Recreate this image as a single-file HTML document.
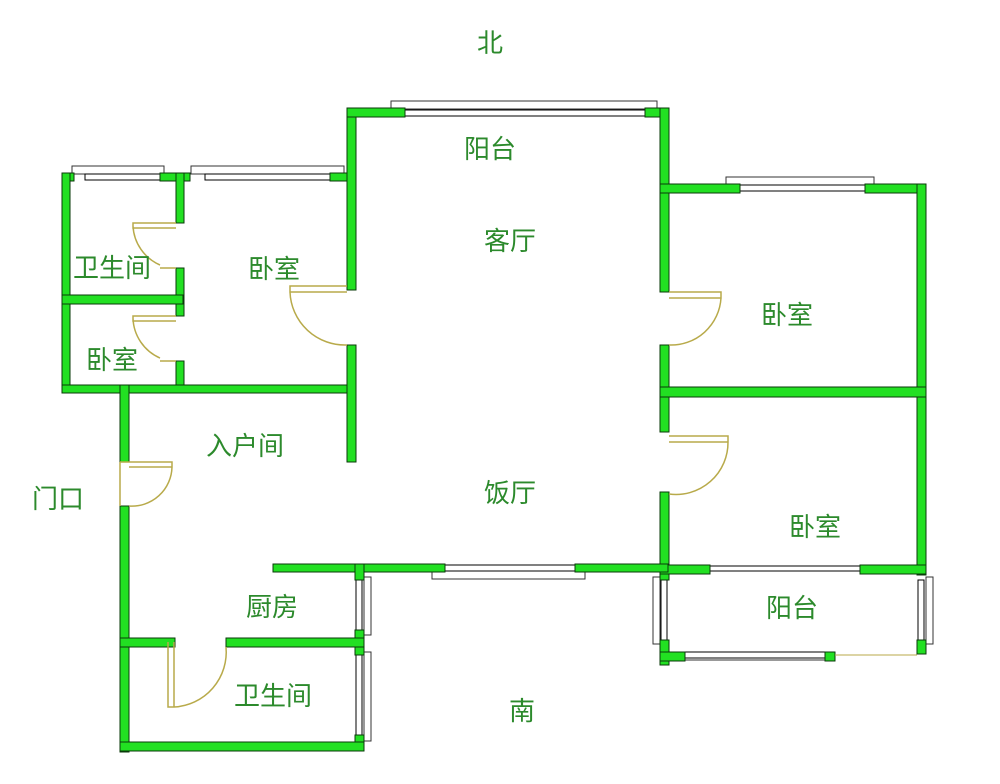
<!DOCTYPE html>
<html><head><meta charset="utf-8"><style>
html,body{margin:0;padding:0;background:#fff;}
svg{display:block}
text{font-family:"Liberation Sans","Noto Sans CJK SC",sans-serif;font-size:26px;fill:#2c8a2c;text-anchor:middle;dominant-baseline:middle}
.w{fill:#22e022;stroke:#0a3a0a;stroke-width:1}
.d{fill:none;stroke:#b8aa4a;stroke-width:1.5}
.f{fill:#fff;stroke:#333;stroke-width:1}
</style></head><body>
<svg width="1000" height="784" viewBox="0 0 1000 784">
<!-- windows frames -->
<rect class="f" x="391" y="101" width="266" height="8"/>
<rect class="f" x="72" y="166" width="92" height="8"/>
<rect class="f" x="191" y="166" width="153" height="8"/>
<rect class="f" x="726" y="177" width="148" height="8"/>
<rect class="f" x="432" y="571" width="153" height="8"/>
<rect class="f" x="673" y="652" width="160" height="8"/>
<rect class="f" x="653" y="577" width="7" height="67"/>
<rect class="f" x="926" y="577" width="7" height="67"/>
<rect class="f" x="364" y="577" width="7" height="58"/>
<rect class="f" x="364" y="652" width="7" height="89"/>
<!-- glass lines -->
<rect x="405" y="110" width="240" height="6" fill="#fff" stroke="#000"/>
<rect x="85" y="174" width="75" height="6" fill="#fff" stroke="#000"/>
<rect x="205" y="174" width="125" height="6" fill="#fff" stroke="#000"/>
<rect x="740" y="185" width="125" height="6" fill="#fff" stroke="#000"/>
<rect x="445" y="565" width="130" height="6" fill="#fff" stroke="#000"/>
<rect x="710" y="566" width="150" height="5" fill="#fff" stroke="#000"/>
<rect x="685" y="652" width="140" height="6" fill="#fff" stroke="#000"/>
<rect x="661" y="580" width="6" height="60" fill="#fff" stroke="#000"/>
<rect x="918" y="580" width="6" height="60" fill="#fff" stroke="#000"/>
<rect x="356" y="580" width="6" height="50" fill="#fff" stroke="#000"/>
<rect x="356" y="655" width="6" height="80" fill="#fff" stroke="#000"/>
<!-- walls -->
<rect class="w" x="62" y="173" width="12" height="8"/>
<rect class="w" x="160" y="173" width="30" height="8"/>
<rect class="w" x="330" y="173" width="26" height="8"/>
<rect class="w" x="62" y="173" width="8" height="220"/>
<rect class="w" x="176" y="173" width="8" height="50"/>
<rect class="w" x="176" y="268" width="8" height="48"/>
<rect class="w" x="176" y="361" width="8" height="31"/>
<rect class="w" x="62" y="295" width="121" height="9"/>
<rect class="w" x="62" y="385" width="293" height="8"/>
<rect class="w" x="347" y="108" width="9" height="182"/>
<rect class="w" x="347" y="345" width="9" height="117"/>
<rect class="w" x="347" y="108" width="58" height="9"/>
<rect class="w" x="645" y="108" width="23" height="9"/>
<rect class="w" x="660" y="108" width="9" height="184"/>
<rect class="w" x="660" y="345" width="9" height="87"/>
<rect class="w" x="660" y="492" width="9" height="80"/>
<rect class="w" x="660" y="184" width="80" height="9"/>
<rect class="w" x="865" y="184" width="61" height="9"/>
<rect class="w" x="917" y="184" width="9" height="391"/>
<rect class="w" x="660" y="387" width="266" height="10"/>
<rect class="w" x="660" y="565" width="50" height="9"/>
<rect class="w" x="860" y="565" width="66" height="9"/>
<rect class="w" x="660" y="574" width="9" height="6"/>
<rect class="w" x="660" y="640" width="9" height="25"/>
<rect class="w" x="660" y="652" width="25" height="9"/>
<rect class="w" x="825" y="652" width="10" height="9"/>
<rect class="w" x="917" y="640" width="9" height="14"/>
<line x1="835" y1="655" x2="917" y2="655" stroke="#b8aa4a"/>
<rect class="w" x="273" y="564" width="172" height="8"/>
<rect class="w" x="575" y="564" width="93" height="8"/>
<rect class="w" x="120" y="385" width="9" height="77"/>
<rect class="w" x="120" y="506" width="9" height="246"/>
<rect class="w" x="355" y="564" width="9" height="16"/>
<rect class="w" x="355" y="630" width="9" height="25"/>
<rect class="w" x="355" y="735" width="9" height="16"/>
<rect class="w" x="120" y="638" width="55" height="9"/>
<rect class="w" x="226" y="638" width="138" height="9"/>
<rect class="w" x="120" y="742" width="244" height="9"/>
<!-- doors -->
<path class="d" d="M176 223 H133 V228 H176 M133 226 A45 45 0 0 0 160 265 M160 268 H176"/>
<path class="d" d="M176 316 H133 V321 H176 M133 318 A45 45 0 0 0 160 358 M160 361 H176"/>
<path class="d" d="M347 286 H290 V292 H347 M290 292 A55 55 0 0 0 347 345"/>
<path class="d" d="M669 292 H721 V298 H669 M721 298 A50 50 0 0 1 669 345"/>
<path class="d" d="M669 436 H728 V442 H669 M728 442 A52 52 0 0 1 669 494"/>
<path class="d" d="M120 462 H172 V467 H129 M172 467 A40 40 0 0 1 129 506 M120 462 V506"/>
<path class="d" d="M168 642 V707 H174 V642 M174 707 A55 55 0 0 0 226 647"/>
<!-- labels -->
<text x="490" y="45">北</text>
<text x="490" y="151">阳台</text>
<text x="510" y="243">客厅</text>
<text x="274" y="271">卧室</text>
<text x="112" y="270">卫生间</text>
<text x="112" y="362">卧室</text>
<text x="245" y="448">入户间</text>
<text x="58" y="501">门口</text>
<text x="510" y="495">饭厅</text>
<text x="787" y="317">卧室</text>
<text x="815" y="529">卧室</text>
<text x="792" y="610">阳台</text>
<text x="272" y="609">厨房</text>
<text x="273" y="698">卫生间</text>
<text x="522" y="713">南</text>
</svg>
</body></html>
